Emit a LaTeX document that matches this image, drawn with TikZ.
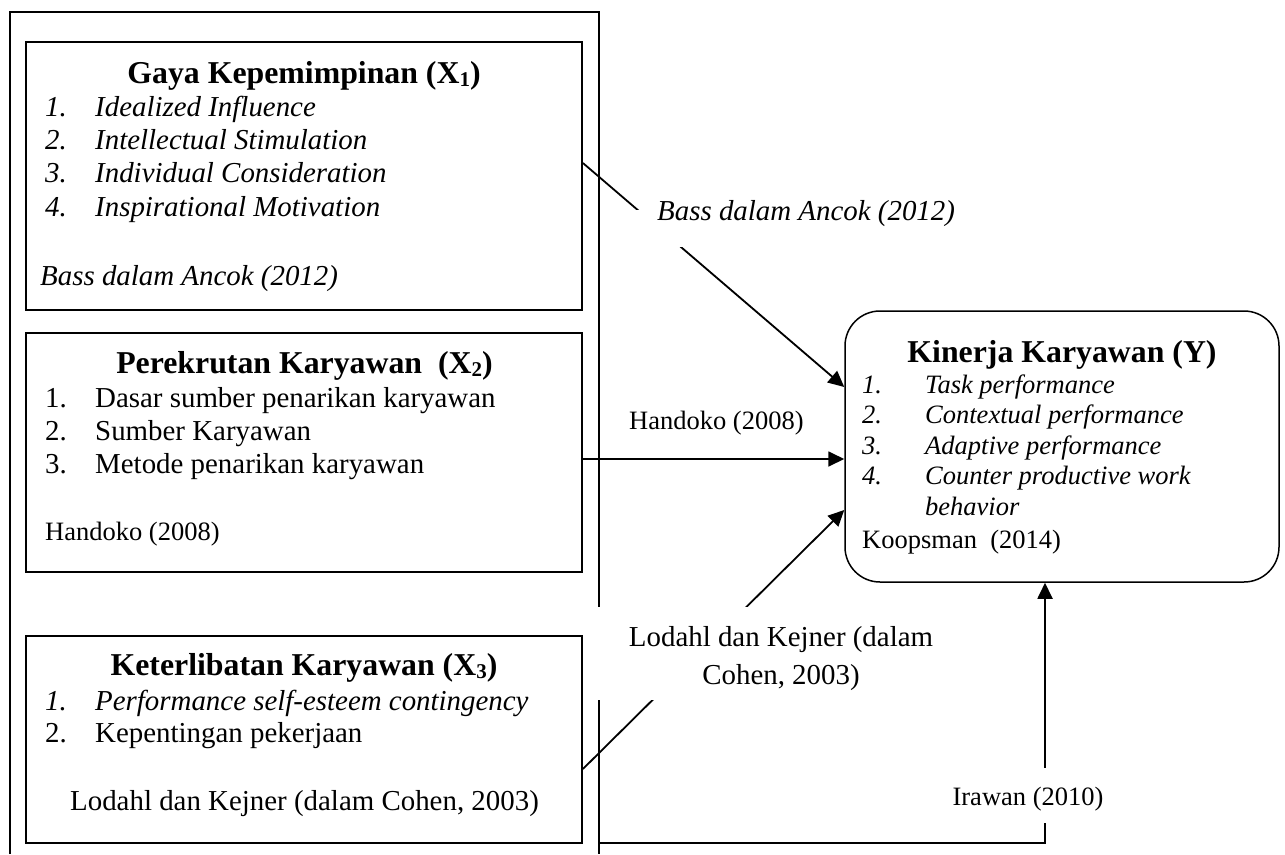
\documentclass[tikz,border=0pt]{standalone}
\usepackage{fontspec}
\setmainfont{Liberation Serif}
\usetikzlibrary{calc,arrows.meta}
\newcommand{\fsbody}{\fontsize{28.9}{33.3}\selectfont}
\newcommand{\fssmall}{\fontsize{26.5}{30.5}\selectfont}
\newcommand{\fstitle}{\fontsize{31.8}{34}\selectfont\bfseries}
\newcommand{\lowsub}[1]{\raisebox{-3pt}{\fontsize{21}{21}\selectfont #1}}
\begin{document}
\begin{tikzpicture}[x=1pt,y=-1pt,
  box/.style={draw, line width=1.8pt, rectangle, inner sep=0pt},
  ybox/.style={draw, line width=1.5pt, rounded corners=35pt, rectangle, inner sep=0pt},
  txt/.style={inner sep=0pt, anchor=base west, align=left},
  ttl/.style={inner sep=0pt, anchor=base, font=\fstitle},
  arr/.style={line width=1.8pt, -{Triangle[length=16pt,width=15pt]}},
  outerline/.style={line width=1.8pt},
  lbl/.style={fill=white, inner ysep=0pt, anchor=base}
]
\useasboundingbox (0,0) rectangle (1285,854);

% boxes
\node[box, minimum width=556pt, minimum height=268pt] (b1) at (304,176) {};
\node[box, minimum width=556pt, minimum height=239pt] (b2) at (304,452.5) {};
\node[box, minimum width=556pt, minimum height=207pt] (b3) at (304,739.5) {};
\node[ybox, minimum width=434pt, minimum height=271pt] (Y) at (1062,446.5) {};

% outer frame (open at the bottom)
\draw[outerline] (10,854) -- (10,12) -- (599,12) -- (599,854);
\coordinate (fo) at (599,843);

% connectors
\draw[arr] ($(b1.east)+(0,-13)$) -- ($(Y.west)+(0,-59.5)$);
\coordinate (h0) at ($(b2.east)+(0,6.5)$);
\draw[arr] (h0) -- (h0 -| Y.west);
\draw[arr] ($(b3.east)+(0,29.5)$) -- ($(Y.west)+(0,63.5)$);
\draw[arr] (fo) -| ($(Y.south)+(-17,0)$);

% connector labels
\node[lbl, anchor=base west, inner xsep=25pt, text height=10pt, text depth=27pt, font=\fsbody\itshape] (bassL) at (632,220) {Bass dalam Ancok (2012)};
\node[txt, font=\fssmall] (hL) at (629,429) {Handoko (2008)};
\node[lbl, align=center, inner xsep=0pt, minimum width=366pt, text height=77pt, text depth=16pt, font=\fontsize{28.9}{38}\selectfont] (lL) at (781,684) {Lodahl dan Kejner (dalam\\Cohen, 2003)};
\node[lbl, inner xsep=3pt, text height=37pt, text depth=18pt, font=\fssmall] (iL) at (1028,805) {Irawan (2010)};

% box 1
\node[ttl] (t1) at (304,83) {Gaya Kepemimpinan (X\lowsub{1})};
\node[txt, font=\fsbody\itshape] (l1) at (45,216) {\makebox[50pt][l]{1.}Idealized Influence\\
\makebox[50pt][l]{2.}Intellectual Stimulation\\
\makebox[50pt][l]{3.}Individual Consideration\\
\makebox[50pt][l]{4.}Inspirational Motivation};
\node[txt, font=\fsbody\itshape] (c1) at (40,285) {Bass dalam Ancok (2012)};

% box 2
\node[ttl] (t2) at (304.5,373) {Perekrutan Karyawan\ \ (X\lowsub{2})};
\node[txt, font=\fontsize{28.9}{33}\selectfont] (l2) at (45,473) {\makebox[50pt][l]{1.}Dasar sumber penarikan karyawan\\
\makebox[50pt][l]{2.}Sumber Karyawan\\
\makebox[50pt][l]{3.}Metode penarikan karyawan};
\node[txt, font=\fssmall] (c2) at (45,540) {Handoko (2008)};

% box 3
\node[ttl] (t3) at (304,675) {Keterlibatan Karyawan (X\lowsub{3})};
\node[txt, font=\fontsize{28.9}{32}\selectfont] (l3) at (45,742) {\makebox[50pt][l]{\itshape 1.}\textit{Performance self-esteem contingency}\\
\makebox[50pt][l]{2.}Kepentingan pekerjaan};
\node[inner sep=0pt, anchor=base, font=\fsbody] (c3) at (304.5,810) {Lodahl dan Kejner (dalam Cohen, 2003)};

% box Y
\node[ttl] (tY) at (1062,362) {Kinerja Karyawan (Y)};
\node[txt, font=\fssmall\itshape] (lY) at (862,515) {\makebox[63pt][l]{1.}Task performance\\
\makebox[63pt][l]{2.}Contextual performance\\
\makebox[63pt][l]{3.}Adaptive performance\\
\makebox[63pt][l]{4.}Counter productive work\\
\makebox[63pt][l]{}behavior};
\node[txt, font=\fssmall] (cY) at (862,548) {Koopsman\ \ (2014)};
\end{tikzpicture}
\end{document}
